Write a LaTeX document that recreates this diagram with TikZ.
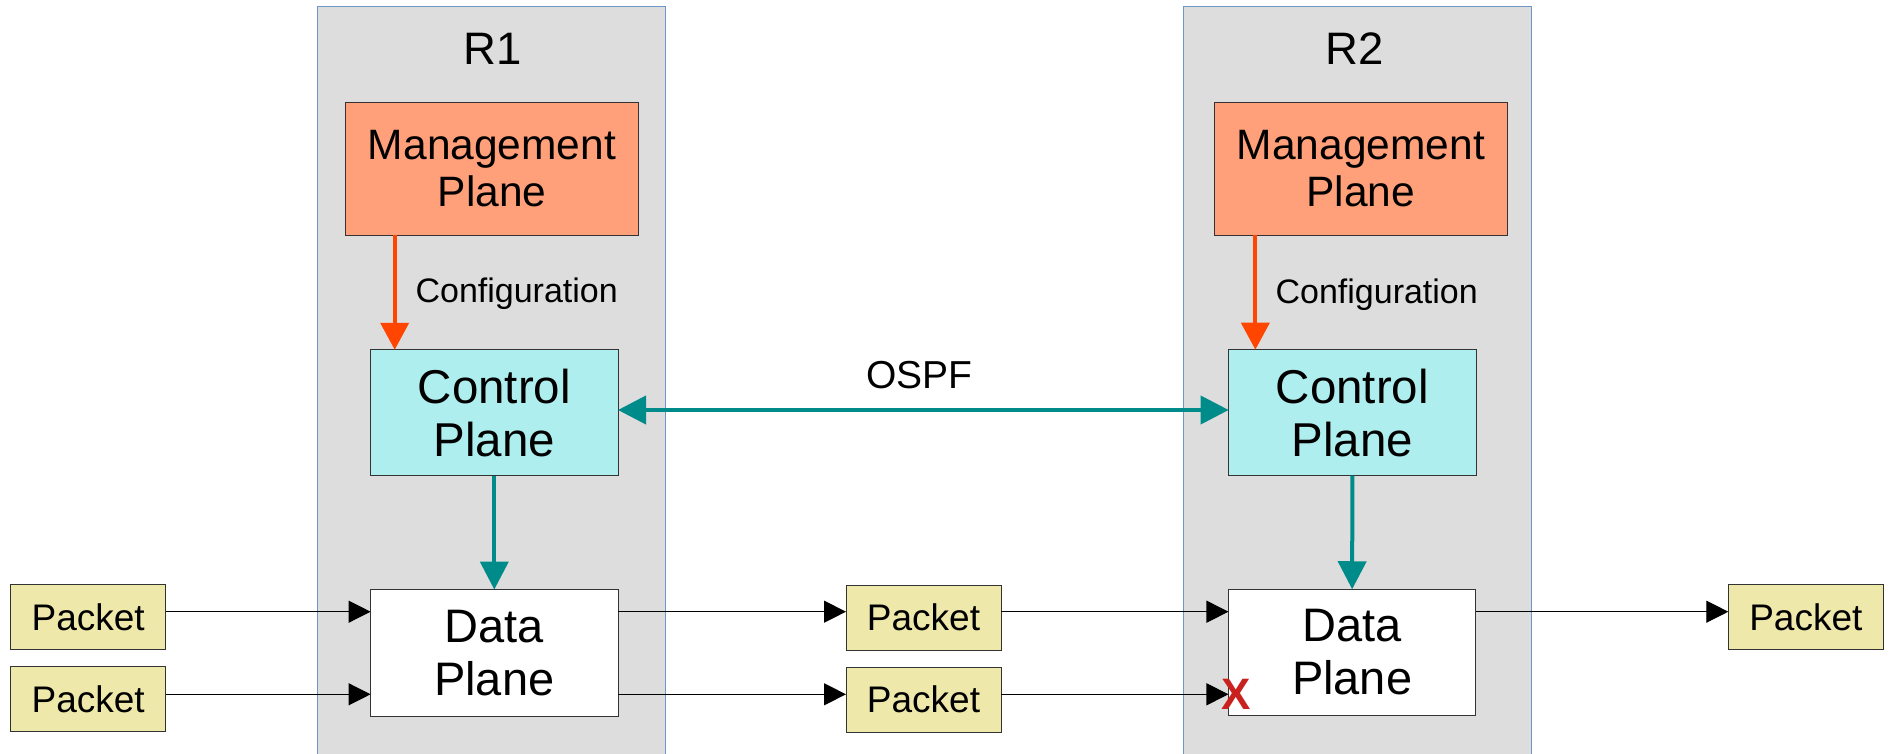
\documentclass[tikz,border=0pt]{standalone}
\usepackage{fontspec}
\setmainfont{Liberation Sans}
\usetikzlibrary{arrows.meta,calc}

\definecolor{routerfill}{RGB}{221,221,221}
\definecolor{routerline}{RGB}{110,150,200}
\definecolor{mgmtfill}{RGB}{255,160,122}
\definecolor{ctrlfill}{RGB}{175,238,238}
\definecolor{pktfill}{RGB}{238,232,170}
\definecolor{cfgcol}{RGB}{255,69,0}
\definecolor{ospfcol}{RGB}{0,139,139}
\definecolor{dropcol}{RGB}{201,33,30}

\tikzset{
  router/.style={draw=routerline, fill=routerfill, line width=1pt, inner sep=0pt, outer sep=0pt},
  plane/.style={draw=black!80, line width=1pt, inner sep=0pt, outer sep=0pt, align=center},
  mgmtbox/.style={plane, fill=mgmtfill, minimum width=293.5pt, minimum height=133pt,
                  font=\fontsize{42.5}{47}\selectfont},
  ctrlbox/.style={plane, fill=ctrlfill, minimum width=247.4pt, minimum height=126pt,
                  font=\fontsize{47.5}{53}\selectfont},
  databox/.style={plane, fill=white, minimum width=247.4pt, minimum height=126.5pt,
                  font=\fontsize{47}{53}\selectfont},
  pktbox/.style={draw=black!80, line width=1pt, fill=pktfill, inner sep=0pt, outer sep=0pt,
                 minimum width=155pt, minimum height=65pt, font=\fontsize{37}{40}\selectfont},
  title/.style={inner sep=0pt, anchor=base, font=\fontsize{45.5}{50}\selectfont},
  lbl/.style={inner sep=0pt, anchor=base, font=\fontsize{34}{38}\selectfont},
  ospflbl/.style={inner sep=0pt, anchor=base, font=\fontsize{39}{44}\selectfont},
  cfgarrow/.style={draw=cfgcol, line width=4pt, -{Triangle[length=27pt,width=28pt]}},
  ctrlarrow/.style={draw=ospfcol, line width=4pt, -{Triangle[length=28pt,width=28pt]}},
  ospfarrow/.style={draw=ospfcol, line width=4pt,
                    {Triangle[length=28pt,width=28pt]}-{Triangle[length=28pt,width=28pt]}},
  flow/.style={draw=black, line width=1.2pt, -{Triangle[length=22pt,width=22pt]}},
  drop/.style={inner sep=0pt, text=dropcol, font=\fontsize{44}{50}\selectfont\bfseries}
}

\begin{document}
\begin{tikzpicture}[x=1pt, y=-1pt]
  \useasboundingbox (0,0) rectangle (1893,754);
  \fill[white] (0,0) rectangle (1893,754);
  \clip (0,0) rectangle (1893,754);

  % router enclosures
  \node[router, minimum width=348pt, minimum height=900pt, anchor=north] (r1) at (491.5,6.5) {};
  \node[router, minimum width=348pt, minimum height=900pt, anchor=north] (r2) at (1357.3,6.5) {};
  \node[title] (r1name) at (492.7,65) {R1};
  \node[title] (r2name) at (1355,65) {R2};

  % planes of R1
  \node[mgmtbox] (mg1) at (492,168.9) {Management\\Plane};
  \node[ctrlbox] (cp1) at (494.3,412.8) {Control\\Plane};
  \node[databox] (dp1) at (494.3,652.8) {Data\\Plane};

  % planes of R2
  \node[mgmtbox] (mg2) at (1360.85,169) {Management\\Plane};
  \node[ctrlbox] (cp2) at (1352.35,412.7) {Control\\Plane};
  \node[databox] (dp2) at (1352.15,652.5) {Data\\Plane};

  % packets
  \node[pktbox] (p1) at (88.2,616.8) {Packet};
  \node[pktbox] (p2) at (88.2,699.2) {Packet};
  \node[pktbox] (m1) at (923.5,617.5) {Packet};
  \node[pktbox] (m2) at (923.5,699.6) {Packet};
  \node[pktbox] (pr) at (1805.8,617.3) {Packet};

  % configuration from management to control
  \coordinate (cfg1) at ([xshift=-99.6pt]cp1.north);
  \coordinate (cfg2) at ([xshift=-97pt]cp2.north);
  \draw[cfgarrow] (cfg1 |- mg1.south) -- (cfg1);
  \draw[cfgarrow] (cfg2 |- mg2.south) -- (cfg2);
  \node[lbl] (cfglbl1) at (516.7,302) {Configuration};
  \node[lbl] (cfglbl2) at (1376.7,303.3) {Configuration};

  % control to data
  \draw[ctrlarrow] (cp1.south) -- (dp1.north);
  \draw[ctrlarrow] (cp2.south) -- (dp2.north);

  % routing protocol between the control planes
  \coordinate (ospfy) at (0,410);
  \draw[ospfarrow] (cp1.east |- ospfy) -- (cp2.west |- ospfy);
  \node[ospflbl] (ospflbl) at (919.7,388.3) {OSPF};

  % packet forwarding
  \coordinate (row1) at (0,611.7);
  \coordinate (row2) at (0,694.3);
  \draw[flow] (p1.east |- row1) -- (dp1.west |- row1);
  \draw[flow] (dp1.east |- row1) -- (m1.west |- row1);
  \draw[flow] (m1.east |- row1) -- (dp2.west |- row1);
  \draw[flow] (dp2.east |- row1) -- (pr.west |- row1);
  \draw[flow] (p2.east |- row2) -- (dp1.west |- row2);
  \draw[flow] (dp1.east |- row2) -- (m2.west |- row2);
  \draw[flow] (m2.east |- row2) -- (dp2.west |- row2);

  % dropped packet
  \node[drop] (dropx) at (1235.8,694.2) {X};
\end{tikzpicture}
\end{document}
